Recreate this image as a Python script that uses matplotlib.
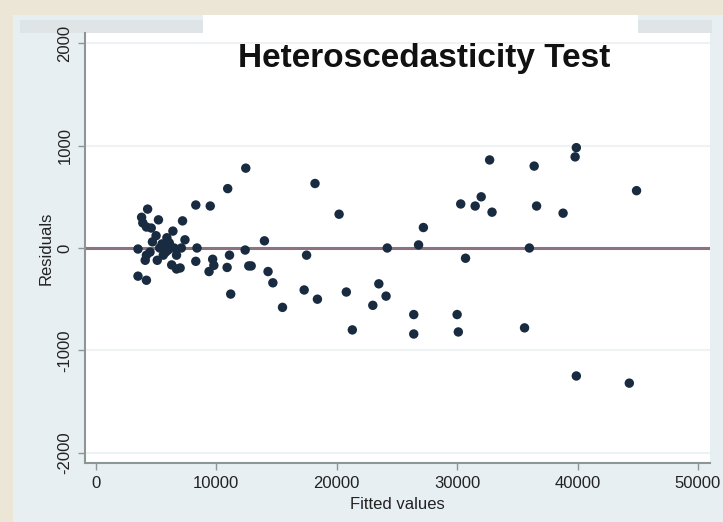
import matplotlib
matplotlib.use("Agg")
import matplotlib.pyplot as plt
from matplotlib.patches import Rectangle

# fitted values and residuals
fitted = [39900, 39800, 32700, 36400, 44900, 30300, 31500, 32000, 32900, 36600,
          38800, 36000, 30700, 30000, 30100, 35600, 39900, 44300,
          20200, 24200, 26800, 27200, 20800, 23500, 24100, 23000, 21300, 26400,
          26400,
          12450, 10950, 18200, 8300, 9500, 14000, 12400, 11100, 17500, 9700,
          9800, 9400, 10900, 12700, 12900, 14300, 14700, 11200, 17300, 18400,
          15500, 8300, 8400,
          3500, 4300, 3800, 3900, 5200, 4200, 4600, 7200, 6400, 5900,
          7400, 7100, 4700, 5300, 6000, 4500, 4100, 5100, 6500, 6700,
          4200, 5600, 6300, 6700, 3500, 4200, 7000, 5500, 5800, 5000, 6100]
resid = [980, 890, 860, 800, 560, 430, 410, 500, 350, 410,
         340, 0, -100, -650, -820, -780, -1250, -1320,
         330, 0, 30, 200, -430, -350, -470, -560, -800, -650,
         -840,
         780, 580, 630, 420, 410, 70, -20, -70, -70, -110,
         -170, -230, -190, -175, -175, -230, -340, -450, -410, -500,
         -580, -130, 0,
         -10, 380, 300, 245, 275, 205, 195, 265, 165, 100,
         80, 0, 60, 0, -20, -40, -120, -120, 0, -70,
         -70, -70, -165, -205, -275, -315, -195, 40, -40, 120, 50]

xticks = [0, 10000, 20000, 30000, 40000, 50000]
yticks = [-2000, -1000, 0, 1000, 2000]
grid_y = [-2000, -1000, 1000, 2000]

W, H = 723, 522
fig = plt.figure(figsize=(W / 100, H / 100), dpi=100, facecolor="#ebe6d6")

def px_rect(x0, y0, x1, y1, color):
    # rectangle in pixel coords measured from the top-left corner
    fig.patches.append(Rectangle((x0 / W, 1 - y1 / H), (x1 - x0) / W, (y1 - y0) / H,
                                 transform=fig.transFigure, facecolor=color,
                                 edgecolor="none", zorder=-5))

px_rect(13, 15, W, H, "#e8eff2")
px_rect(20, 20, 203, 33, "#dfe5e6")
px_rect(638, 20, 712, 33, "#dfe5e6")
px_rect(203, 15, 638, 33, "#ffffff")

ax = fig.add_axes([85 / W, 1 - 463 / H, 625 / W, 430 / H])
ax.set_facecolor("white")
ax.set_xlim(-900, 51000)
ax.set_ylim(-2100, 2100)

for g in grid_y:
    ax.axhline(g, color="#eef2f3", lw=1.5, zorder=1)
ax.axhline(0, color="#8d7282", lw=2.2, zorder=2)

ax.scatter(fitted, resid, s=46, color="#182b40", edgecolors="none", zorder=3)

for side in ["top", "right"]:
    ax.spines[side].set_visible(False)
for side in ["left", "bottom"]:
    ax.spines[side].set_color("#8c9696")
    ax.spines[side].set_linewidth(1.5)

ax.set_xticks(xticks)
ax.set_yticks(yticks)
ax.set_xticklabels([str(t) for t in xticks])
ax.set_yticklabels([str(t) for t in yticks], rotation=90, va="center")
ax.tick_params(colors="#8c9696", length=5, width=1, labelcolor="#222222",
               labelsize=12, pad=4)
for lab in ax.get_xticklabels() + ax.get_yticklabels():
    lab.set_family(["Liberation Sans", "DejaVu Sans"])

ax.set_xlabel("Fitted values", fontsize=12, color="#222222",
              family=["Liberation Sans", "DejaVu Sans"])
ax.set_ylabel("Residuals", fontsize=12, color="#222222",
              family=["Liberation Sans", "DejaVu Sans"])
ax.xaxis.set_label_coords(0.5, -0.079)
ax.yaxis.set_label_coords(-0.051, 0.5)

fig.text(424 / W, 1 - 58 / H, "Heteroscedasticity Test", ha="center", va="center",
         fontsize=24, fontweight="bold", color="#111111", zorder=10,
         family=["Liberation Sans", "DejaVu Sans"])

fig.savefig("out.png", dpi=100, facecolor=fig.get_facecolor())
